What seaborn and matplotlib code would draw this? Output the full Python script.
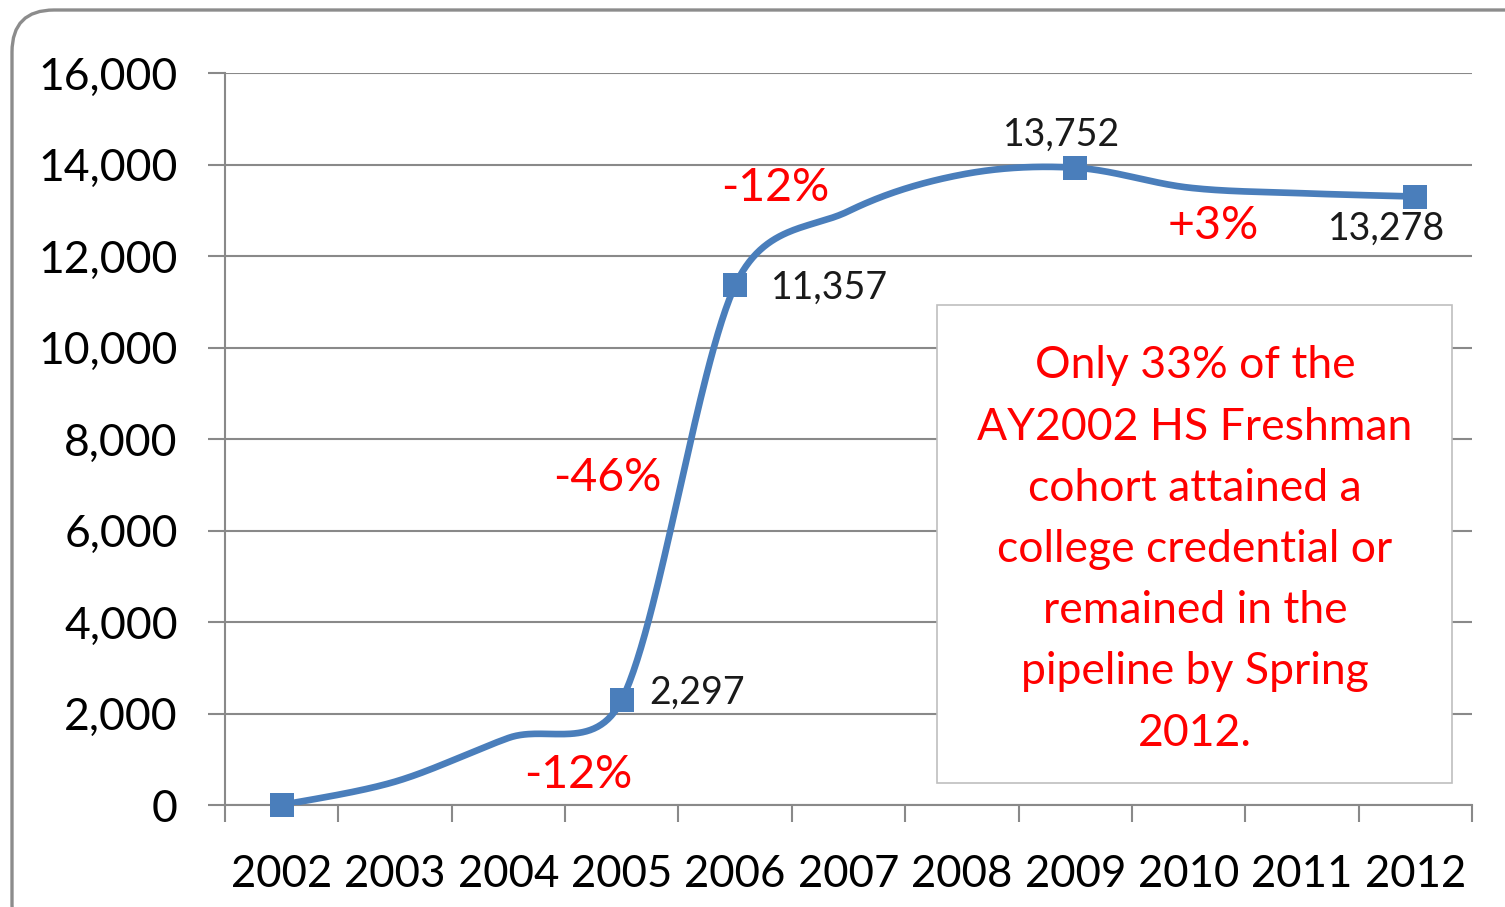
import numpy as np
import pandas as pd
import matplotlib
matplotlib.use("Agg")
import matplotlib.pyplot as plt
import seaborn as sns
from matplotlib.patches import FancyBboxPatch, Rectangle
from matplotlib.transforms import IdentityTransform

# ---------------- data ----------------
years = ["2002", "2003", "2004", "2005", "2006", "2007", "2008", "2009", "2010", "2011", "2012"]
values = [0, 510, 1465, 2297, 11357, 12980, 13780, 13930, 13495, 13372, 13300]
marked_years = ["2002", "2005", "2006", "2009", "2012"]
value_label_years = ["2005", "2006", "2009", "2012"]
value_labels = ["2,297", "11,357", "13,752", "13,278"]
change_labels = ["-12%", "-46%", "-12%", "+3%"]
y_ticks = [0, 2000, 4000, 6000, 8000, 10000, 12000, 14000, 16000]
box_lines = ["Only 33% of the", "AY2002 HS Freshman", "cohort attained a",
             "college credential or", "remained in the", "pipeline by Spring", "2012."]

# ---------------- style ----------------
sns.set_theme(style="white")
plt.rcParams['font.family'] = ['Lato', 'DejaVu Sans']
BLUE = "#4A7EBB"
GRID = "#898989"
RED = "#FF0000"

W, H = 1505, 907
fig = plt.figure(figsize=(W / 100, H / 100), dpi=100)
L, R, T, B = 225, 1472, 73, 805
ax = fig.add_axes([L / W, 1 - B / H, (R - L) / W, (B - T) / H])

# rounded outer chart border
border = FancyBboxPatch((12, -40), 1700, H - 10 + 40,
                        boxstyle="round,pad=0,rounding_size=42",
                        transform=IdentityTransform(), facecolor="none",
                        edgecolor="#8C8C8C", linewidth=2.4, zorder=0)
fig.add_artist(border)

# ---------------- smooth line (Excel-style Bezier smoothing) ----------------
xs = np.arange(len(years), dtype=float)
ys = np.array(values, dtype=float)
# pixel scale factors used only for the smoothing geometry
sx = (R - L) / len(years)
sy = (B - T) / (y_ticks[-1] - y_ticks[0])

def smooth(x, y, n=60):
    pts = np.column_stack([x * sx, y * sy])
    P = np.vstack([pts[0], pts, pts[-1]])
    out = []
    for i in range(len(pts) - 1):
        p0, p1, p2, p3 = P[i], P[i + 1], P[i + 2], P[i + 3]
        d12 = np.linalg.norm(p2 - p1)
        t1 = p2 - p0
        t2 = p3 - p1
        n1 = np.linalg.norm(t1)
        n2 = np.linalg.norm(t2)
        l1 = min(n1 / 6.0, d12 / 2.0)
        l2 = min(n2 / 6.0, d12 / 2.0)
        c1 = p1 + (t1 / n1 * l1 if n1 > 0 else 0)
        c2 = p2 - (t2 / n2 * l2 if n2 > 0 else 0)
        t = np.linspace(0, 1, n)[:, None]
        seg = (1 - t) ** 3 * p1 + 3 * (1 - t) ** 2 * t * c1 + 3 * (1 - t) * t ** 2 * c2 + t ** 3 * p2
        out.append(seg if i == 0 else seg[1:])
    c = np.vstack(out)
    return c[:, 0] / sx, c[:, 1] / sy

cx_, cy_ = smooth(xs, ys)
df_curve = pd.DataFrame({"x": cx_, "y": cy_})
sns.lineplot(data=df_curve, x="x", y="y", ax=ax, color=BLUE, linewidth=4.8,
             sort=False, estimator=None, zorder=3)

df = pd.DataFrame({"year": years, "value": values, "pos": xs})
df_m = df[df["year"].isin(marked_years)]
sns.scatterplot(data=df_m, x="pos", y="value", ax=ax, marker="s", s=290,
                color=BLUE, edgecolor=BLUE, linewidth=0, zorder=4, clip_on=False)

# ---------------- axes ----------------
ax.set_xlim(-0.5, len(years) - 0.5)
ax.set_ylim(y_ticks[0], y_ticks[-1])
ax.set_yticks(y_ticks)
ax.set_yticklabels([f"{v:,}" for v in y_ticks], fontsize=32, color="black")
ax.set_xticks(xs)
ax.set_xticklabels(years, fontsize=31.5, color="black")
ax.set_xticks(np.arange(-0.5, len(years), 1.0), minor=True)
ax.tick_params(axis="x", which="major", length=0, pad=35, bottom=True)
ax.tick_params(axis="x", which="minor", length=12, width=1.5, color=GRID,
               direction="out", bottom=True)
ax.tick_params(axis="y", which="major", length=12, width=1.5, color=GRID,
               direction="out", pad=22, left=True)
ax.set_xlabel("")
ax.set_ylabel("")
ax.grid(axis="y", color=GRID, linewidth=1.5, zorder=0)
ax.grid(axis="x", visible=False)
ax.set_axisbelow(True)
for s in ["top", "right"]:
    ax.spines[s].set_visible(False)
for s in ["left", "bottom"]:
    ax.spines[s].set_color(GRID)
    ax.spines[s].set_linewidth(1.5)
ax.patch.set_alpha(0)

# ---------------- value labels ----------------
offsets = [(27, 7, "left"), (36, -2, "left"), (-14, 33, "center"), (-29, -32, "center")]
for yr, lab, (dx, dy, ha) in zip(value_label_years, value_labels, offsets):
    row = df[df["year"] == yr].iloc[0]
    ax.annotate(lab, (row["pos"], row["value"]), xytext=(dx, dy),
                textcoords="offset pixels", ha=ha, va="center", fontsize=27,
                color="#1a1a1a", zorder=6)

# ---------------- change labels ----------------
change_pos = [(4.352, 13486), (2.87, 7148), (2.614, 656), (8.216, 12656)]
for lab, (px, py) in zip(change_labels, change_pos):
    ax.text(px, py, lab, ha="center", va="center", fontsize=33.5, color=RED, zorder=6)

# ---------------- text box ----------------
bx0, bx1, by0, by1 = 937, 1452, 305, 783
rect = Rectangle(((bx0 - L) / (R - L), (B - by1) / (B - T)),
                 (bx1 - bx0) / (R - L), (by1 - by0) / (B - T),
                 transform=ax.transAxes, facecolor="white", edgecolor="#BFBFBF",
                 linewidth=1.2, zorder=5)
ax.add_patch(rect)
tx = (1195 - L) / (R - L)
for i, line in enumerate(box_lines):
    py = 366 + 61.2 * i
    ax.text(tx, (B - py) / (B - T), line, transform=ax.transAxes, ha="center",
            va="center", fontsize=32, color=RED, zorder=6)

fig.savefig("out.png", dpi=100)
